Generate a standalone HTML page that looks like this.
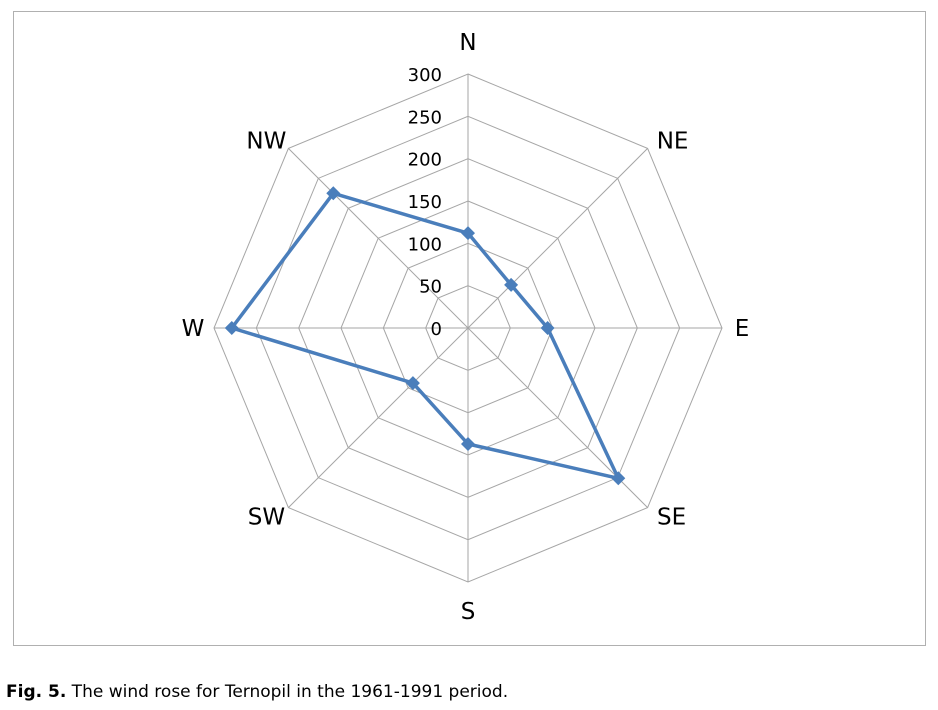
<!DOCTYPE html>
<html><head><meta charset="utf-8"><style>
body{margin:0;background:#fff;width:938px;height:710px;overflow:hidden;font-family:"DejaVu Sans","Liberation Sans",sans-serif}
svg{position:absolute;left:0;top:0}
</style></head><body>
<svg id="c" width="938" height="710">
<rect x="13.5" y="11.5" width="912" height="634" fill="#fff" stroke="#b0b0b0"/>
<g id="grid"></g><g id="series"></g><g id="labels"></g>
<text x="6" y="697" font-size="17" fill="#000"><tspan font-weight="bold">Fig. 5.</tspan> The wind rose for Ternopil in the 1961-1991 period.</text>
</svg>
<script>
const directions=["N","NE","E","SE","S","SW","W","NW"];
const values=[112,72,94,251,137,92,279,225];
const ticks=[0,50,100,150,200,250,300];
const cx=468,cy=328,R=254,maxV=300;
const NS="http://www.w3.org/2000/svg";
function r(v){return v/maxV*R;}
function pt(i,v){const a=i*Math.PI/4;return [cx+r(v)*Math.sin(a),cy-r(v)*Math.cos(a)];}
function mk(t,at,p){const e=document.createElementNS(NS,t);for(const k in at)e.setAttribute(k,at[k]);p.appendChild(e);return e;}
const g=document.getElementById('grid'),s=document.getElementById('series'),L=document.getElementById('labels');
const labelOff=[[0,-32],[25,-8],[20,0],[24,9],[0,29],[-22,9],[-21,0],[-22,-8]];
ticks.slice(1).forEach(t=>{
 const pts=directions.map((d,i)=>pt(i,t).join(',')).join(' ');
 const e=mk('polygon',{points:pts,fill:'none',stroke:'#a6a6a6','stroke-width':1},g);
 
 
});
directions.forEach((d,i)=>{
 const p=pt(i,maxV);
 const e=mk('line',{x1:cx,y1:cy,x2:p[0],y2:p[1],stroke:'#a6a6a6','stroke-width':1},g);
 
 
 const tx=mk('text',{x:p[0]+labelOff[i][0],y:p[1]+labelOff[i][1]+8,'font-size':23,'text-anchor':'middle',fill:'#000'},L);
 tx.textContent=d;
 
 
});
ticks.forEach(t=>{
 const tx=mk('text',{x:442,y:cy-r(t)+7,'font-size':18,'text-anchor':'end',fill:'#000'},L);
 tx.textContent=t;
 
 
});
const sp=values.map((v,i)=>pt(i,v).join(',')).join(' ');
const line=mk('polygon',{points:sp,fill:'none',stroke:'#4a7ebb','stroke-width':3.5,'stroke-linejoin':'round'},s);


values.forEach((v,i)=>{
 const [x,y]=pt(i,v);
 const m=mk('polygon',{points:`${x},${y-7} ${x+7},${y} ${x},${y+7} ${x-7},${y}`,fill:'#4a7ebb'},s);
 
 
});
</script>
</body></html>
